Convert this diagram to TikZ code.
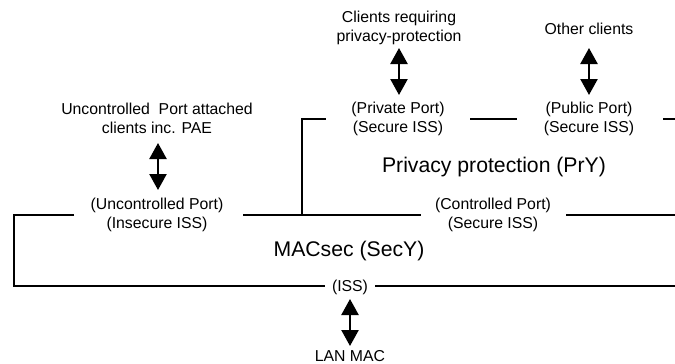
\documentclass[tikz,border=0pt]{standalone}
\usepackage{fontspec}
\setmainfont{Liberation Sans}
\usetikzlibrary{arrows.meta}
\begin{document}
\begin{tikzpicture}[x=1pt,y=-1pt,
  lbl/.style={font=\fontsize{15.8}{19}\selectfont, align=center, inner sep=0pt},
  layername/.style={font=\fontsize{21.2}{25}\selectfont, inner sep=0pt},
  rule/.style={line width=1.8pt},
  biarrow/.style={line width=2.4pt,
    {Triangle[width=17pt,length=16pt]}-{Triangle[width=17pt,length=16pt]}}]
\useasboundingbox (0,0) rectangle (675,364);

% service labels
\node[lbl] (ucl) at (157,118.5) {Uncontrolled\ \ Port attached\\clients inc. PAE};
\node[lbl] (up)  at (157,214.5) {(Uncontrolled Port)\\(Insecure ISS)};
\node[lbl] (cp)  at (493,214.5) {(Controlled Port)\\(Secure ISS)};
\node[lbl] (pcl) at (399,27.5)  {Clients requiring\\privacy-protection};
\node[lbl] (pp)  at (398,118.5) {(Private Port)\\(Secure ISS)};
\node[lbl] (ocl) at (589,29)    {Other clients};
\node[lbl] (pub) at (589,118.5) {(Public Port)\\(Secure ISS)};
\node[lbl] (iss) at (350,287)   {(ISS)};
\node[lbl] (mac) at (350,356.5) {LAN MAC};

% layer names
\node[layername] (pry)  at (494,167) {Privacy protection (PrY)};
\node[layername] (secy) at (349,251) {MACsec (SecY)};

% SecY boundary
\coordinate (s1) at (74,215);
\coordinate (s2) at (14,215);
\coordinate (s3) at (14,286);
\coordinate (s4) at (325,286);
\coordinate (s5) at (375,286);
\coordinate (s6) at (675,286);
\coordinate (s7) at (243,215);
\coordinate (s8) at (421,215);
\coordinate (s9) at (566,215);
\coordinate (s10) at (675,215);
\draw[rule] (s1) -- (s2) -- (s3) -- (s4);
\draw[rule] (s5) -- (s6);
\draw[rule] (s7) -- (s8);
\draw[rule] (s9) -- (s10);

% PrY boundary
\coordinate (p0) at (302,215);
\coordinate (p1) at (302,119);
\coordinate (p2) at (326,119);
\coordinate (p3) at (470,119);
\coordinate (p4) at (517,119);
\coordinate (p5) at (663,119);
\coordinate (p6) at (675,119);
\draw[rule] (p0) -- (p1) -- (p2);
\draw[rule] (p3) -- (p4);
\draw[rule] (p5) -- (p6);

% service access arrows
\coordinate (a1t) at (158,143);
\coordinate (a1b) at (158,190);
\coordinate (a2t) at (399,48);
\coordinate (a2b) at (399,95);
\coordinate (a3t) at (589,48);
\coordinate (a3b) at (589,95);
\coordinate (a4t) at (350,299);
\coordinate (a4b) at (350,346);
\draw[biarrow] (a1t) -- (a1b);
\draw[biarrow] (a2t) -- (a2b);
\draw[biarrow] (a3t) -- (a3b);
\draw[biarrow] (a4t) -- (a4b);
\end{tikzpicture}
\end{document}
